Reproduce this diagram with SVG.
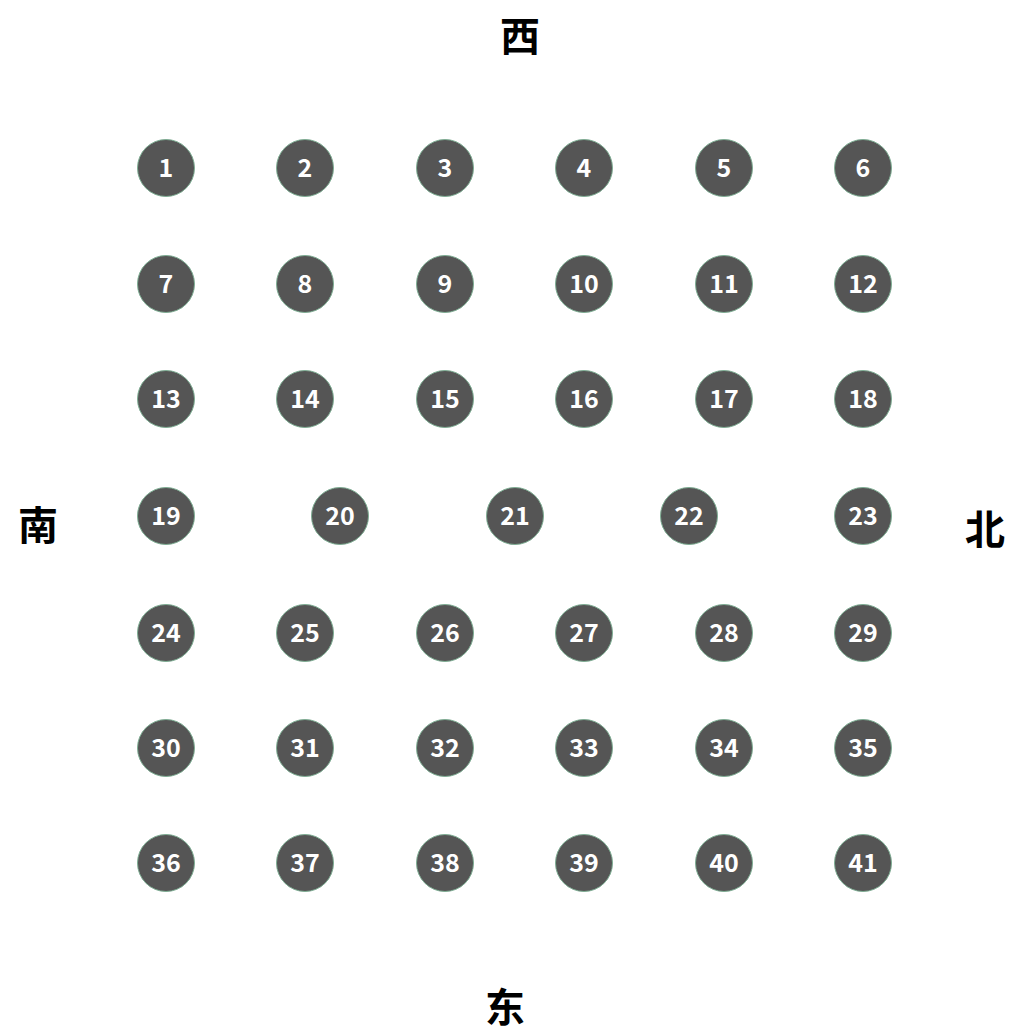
<svg xmlns="http://www.w3.org/2000/svg" width="1013" height="1033" viewBox="0 0 1013 1033">
<style>
.n circle{fill:#555555;stroke:#7fae94;stroke-width:1}
.n text{fill:#ffffff;font-family:"Noto Sans CJK SC","Noto Sans",sans-serif;font-weight:bold;font-size:25px;text-anchor:middle;dominant-baseline:central}
.d{fill:#000;font-family:"Noto Sans CJK SC",sans-serif;font-weight:bold;font-size:40px;text-anchor:middle;dominant-baseline:central}
</style>
<rect width="1013" height="1033" fill="#ffffff"/>
<g id="labels">
<text class="d" x="520" y="34">西</text>
<text class="d" x="38" y="523">南</text>
<text class="d" x="985" y="527">北</text>
<text class="d" x="505" y="1005">东</text>
</g>
<g id="connectors"></g>
<g id="node1" class="n"><circle cx="166" cy="168" r="28.5"/><text x="166" y="166">1</text></g>
<g id="node2" class="n"><circle cx="305" cy="168" r="28.5"/><text x="305" y="166">2</text></g>
<g id="node3" class="n"><circle cx="445" cy="168" r="28.5"/><text x="445" y="166">3</text></g>
<g id="node4" class="n"><circle cx="584" cy="168" r="28.5"/><text x="584" y="166">4</text></g>
<g id="node5" class="n"><circle cx="724" cy="168" r="28.5"/><text x="724" y="166">5</text></g>
<g id="node6" class="n"><circle cx="863" cy="168" r="28.5"/><text x="863" y="166">6</text></g>
<g id="node7" class="n"><circle cx="166" cy="284" r="28.5"/><text x="166" y="282">7</text></g>
<g id="node8" class="n"><circle cx="305" cy="284" r="28.5"/><text x="305" y="282">8</text></g>
<g id="node9" class="n"><circle cx="445" cy="284" r="28.5"/><text x="445" y="282">9</text></g>
<g id="node10" class="n"><circle cx="584" cy="284" r="28.5"/><text x="584" y="282">10</text></g>
<g id="node11" class="n"><circle cx="724" cy="284" r="28.5"/><text x="724" y="282">11</text></g>
<g id="node12" class="n"><circle cx="863" cy="284" r="28.5"/><text x="863" y="282">12</text></g>
<g id="node13" class="n"><circle cx="166" cy="399" r="28.5"/><text x="166" y="397">13</text></g>
<g id="node14" class="n"><circle cx="305" cy="399" r="28.5"/><text x="305" y="397">14</text></g>
<g id="node15" class="n"><circle cx="445" cy="399" r="28.5"/><text x="445" y="397">15</text></g>
<g id="node16" class="n"><circle cx="584" cy="399" r="28.5"/><text x="584" y="397">16</text></g>
<g id="node17" class="n"><circle cx="724" cy="399" r="28.5"/><text x="724" y="397">17</text></g>
<g id="node18" class="n"><circle cx="863" cy="399" r="28.5"/><text x="863" y="397">18</text></g>
<g id="node19" class="n"><circle cx="166" cy="516" r="28.5"/><text x="166" y="514">19</text></g>
<g id="node20" class="n"><circle cx="340" cy="516" r="28.5"/><text x="340" y="514">20</text></g>
<g id="node21" class="n"><circle cx="515" cy="516" r="28.5"/><text x="515" y="514">21</text></g>
<g id="node22" class="n"><circle cx="689" cy="516" r="28.5"/><text x="689" y="514">22</text></g>
<g id="node23" class="n"><circle cx="863" cy="516" r="28.5"/><text x="863" y="514">23</text></g>
<g id="node24" class="n"><circle cx="166" cy="633" r="28.5"/><text x="166" y="631">24</text></g>
<g id="node25" class="n"><circle cx="305" cy="633" r="28.5"/><text x="305" y="631">25</text></g>
<g id="node26" class="n"><circle cx="445" cy="633" r="28.5"/><text x="445" y="631">26</text></g>
<g id="node27" class="n"><circle cx="584" cy="633" r="28.5"/><text x="584" y="631">27</text></g>
<g id="node28" class="n"><circle cx="724" cy="633" r="28.5"/><text x="724" y="631">28</text></g>
<g id="node29" class="n"><circle cx="863" cy="633" r="28.5"/><text x="863" y="631">29</text></g>
<g id="node30" class="n"><circle cx="166" cy="748" r="28.5"/><text x="166" y="746">30</text></g>
<g id="node31" class="n"><circle cx="305" cy="748" r="28.5"/><text x="305" y="746">31</text></g>
<g id="node32" class="n"><circle cx="445" cy="748" r="28.5"/><text x="445" y="746">32</text></g>
<g id="node33" class="n"><circle cx="584" cy="748" r="28.5"/><text x="584" y="746">33</text></g>
<g id="node34" class="n"><circle cx="724" cy="748" r="28.5"/><text x="724" y="746">34</text></g>
<g id="node35" class="n"><circle cx="863" cy="748" r="28.5"/><text x="863" y="746">35</text></g>
<g id="node36" class="n"><circle cx="166" cy="863" r="28.5"/><text x="166" y="861">36</text></g>
<g id="node37" class="n"><circle cx="305" cy="863" r="28.5"/><text x="305" y="861">37</text></g>
<g id="node38" class="n"><circle cx="445" cy="863" r="28.5"/><text x="445" y="861">38</text></g>
<g id="node39" class="n"><circle cx="584" cy="863" r="28.5"/><text x="584" y="861">39</text></g>
<g id="node40" class="n"><circle cx="724" cy="863" r="28.5"/><text x="724" y="861">40</text></g>
<g id="node41" class="n"><circle cx="863" cy="863" r="28.5"/><text x="863" y="861">41</text></g>
</svg>
